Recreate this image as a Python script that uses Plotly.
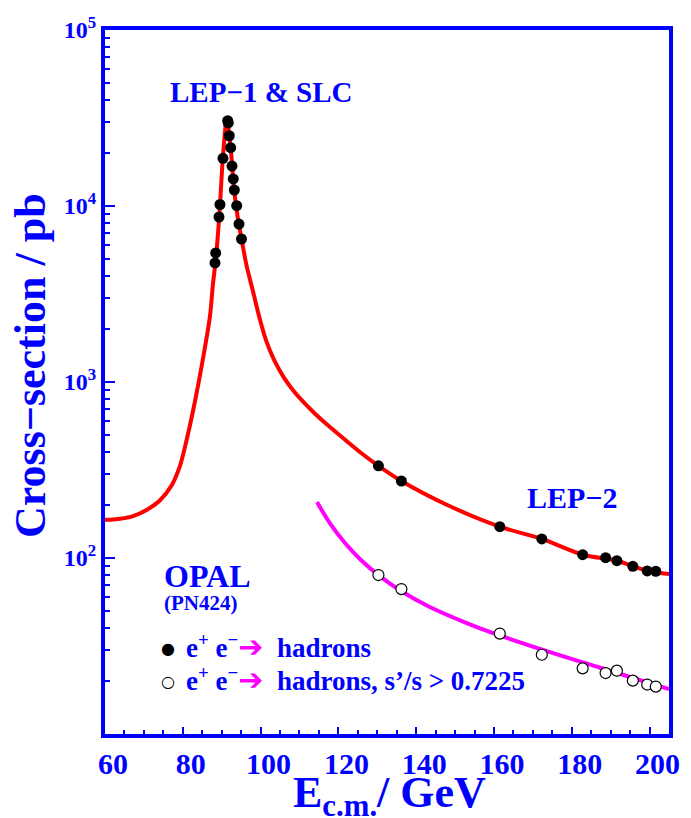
import plotly.graph_objects as go

# ---- data ----
lep1_E = [88.28, 88.46, 89.31, 89.56, 90.33, 91.54, 91.70, 91.95, 92.31, 92.65, 92.98, 93.24, 93.86, 94.45, 95.09]
lep1_xs = [4745, 5410, 8660, 10200, 18660, 30530, 29630, 25070, 21440, 16870, 14240, 12330, 10040, 7900, 6495]

lep2_E = [130.3, 136.2, 161.5, 172.3, 182.8, 188.7, 191.6, 195.7, 199.4, 201.6]
lep2_xs = [334, 273.8, 150.6, 128.3, 104.4, 100.4, 96.5, 89.7, 84.4, 84.1]
lep2_xs_cut = [80.0, 66.6, 37.2, 28.2, 23.6, 22.2, 22.9, 20.1, 19.1, 18.6]

curve_E = [60.0, 61.5, 63.9, 67.2, 70.8, 74.1, 77.1, 79.3, 81.0, 83.1, 85.3, 87.0, 87.8, 88.5,
           89.4, 90.3, 91.3, 92.3, 93.2, 94.4, 95.1, 96.4, 98.1, 99.8, 101.5, 103.5, 106.0,
           108.5, 111.0, 114.0, 117.0, 120.5, 125.6, 130.3, 136.2, 148.0, 161.5, 172.3,
           182.8, 191.6, 199.4, 205.0]
curve_xs = [165, 165, 167, 173, 188, 212, 258, 335, 470, 770, 1400, 2380, 3680, 5000,
            8900, 18700, 31200, 21400, 12330, 7900, 6495, 4580, 3236, 2280, 1700, 1330, 1060,
            890, 770, 660, 575, 495, 399, 334, 274, 200, 150.6, 128.3,
            104.4, 96.5, 84.4, 81]

cut_E = [114.5, 117.8, 121.7, 125.6, 130.3, 136.3, 143.5, 153.0, 161.5, 174.4, 187.3, 205.0]
cut_xs = [208, 157.9, 121.7, 98.4, 79.9, 64.5, 52.7, 42.7, 36.3, 29.2, 23.8, 18.0]

x_ticks = [60, 80, 100, 120, 140, 160, 180, 200]
x_minor = [v for v in range(65, 205, 5) if v % 20 != 0]
y_ticks = [1e2, 1e3, 1e4, 1e5]
y_ticktext = ["10<sup>2</sup>", "10<sup>3</sup>", "10<sup>4</sup>", "10<sup>5</sup>"]
y_minor = [m * 10 ** d for d in range(1, 5) for m in range(2, 10)]

BLUE = "#0000FF"
FONT = "Liberation Serif"

fig = go.Figure()
fig.add_trace(go.Scatter(x=curve_E, y=curve_xs, mode="lines",
                         line=dict(color="#FF0000", width=4, shape="spline", smoothing=0.8),
                         showlegend=False, hoverinfo="skip"))
fig.add_trace(go.Scatter(x=cut_E, y=cut_xs, mode="lines",
                         line=dict(color="#FF00FF", width=4, shape="spline", smoothing=1.0),
                         showlegend=False, hoverinfo="skip"))
fig.add_trace(go.Scatter(x=lep1_E + lep2_E, y=lep1_xs + lep2_xs, mode="markers",
                         marker=dict(color="black", size=11, line=dict(width=0)),
                         showlegend=False))
fig.add_trace(go.Scatter(x=lep2_E, y=lep2_xs_cut, mode="markers",
                         marker=dict(color="white", size=11, symbol="circle",
                                     line=dict(color="black", width=1.2)),
                         showlegend=False))

ann_font = dict(family=FONT, color=BLUE, weight="bold")
anns = [
    dict(x=0.277, y=0.912, text="LEP−1 &amp; SLC", size=29),
    dict(x=0.828, y=0.336, text="LEP−2", size=30),
    dict(x=0.182, y=0.225, text="OPAL", size=32),
    dict(x=0.170, y=0.186, text="(PN424)", size=21),
]
for a in anns:
    fig.add_annotation(x=a["x"], y=a["y"], xref="paper", yref="paper", text=a["text"],
                       showarrow=False, xanchor="center", yanchor="middle",
                       font=dict(size=a["size"], **ann_font))

# axis titles
fig.add_annotation(x=0.505, y=-0.088, xref="paper", yref="paper",
                   text="E<sub>c.m.</sub>/ GeV", showarrow=False,
                   xanchor="center", yanchor="middle", font=dict(size=44, **ann_font))
fig.add_annotation(x=-0.131, y=0.523, xref="paper", yref="paper",
                   text="Cross−section / pb", showarrow=False, textangle=-90,
                   xanchor="center", yanchor="middle", font=dict(size=44, **ann_font))

# legend block
ARROW = "<span style='color:#FF00FF;font-family:DejaVu Sans;font-size:30px'>➔</span>"
fig.add_annotation(x=0.112, y=0.122, xref="paper", yref="paper", text="●", showarrow=False,
                   xanchor="center", yanchor="middle", font=dict(size=16, color="black", family="DejaVu Sans"))
fig.add_annotation(x=0.112, y=0.075, xref="paper", yref="paper", text="○", showarrow=False,
                   xanchor="center", yanchor="middle", font=dict(size=16, color="black", family="DejaVu Sans"))
fig.add_annotation(x=0.14, y=0.124, xref="paper", yref="paper",
                   text="e<sup>+</sup> e<sup>−</sup>" + ARROW + "  hadrons",
                   showarrow=False, xanchor="left", yanchor="middle", font=dict(size=27, **ann_font))
fig.add_annotation(x=0.14, y=0.077, xref="paper", yref="paper",
                   text="e<sup>+</sup> e<sup>−</sup>" + ARROW + "  hadrons, s’/s &gt; 0.7225",
                   showarrow=False, xanchor="left", yanchor="middle", font=dict(size=27, **ann_font))

fig.add_shape(type="line", xref="paper", yref="paper", x0=0.66, x1=1.04, y0=1.0405, y1=1.0405,
              line=dict(color="#555555", width=2))

fig.update_xaxes(range=[60, 205], showgrid=False, zeroline=False, automargin=False,
                 showline=True, linecolor=BLUE, linewidth=4, mirror=True,
                 tickmode="array", tickvals=x_ticks, ticktext=[str(v) for v in x_ticks],
                 ticks="inside", ticklen=7, tickwidth=1.5, tickcolor=BLUE,
                 minor=dict(tickmode="array", tickvals=x_minor, ticks="inside", ticklen=4,
                            tickwidth=1.5, tickcolor=BLUE, showgrid=False),
                 tickfont=dict(family=FONT, size=30, color=BLUE, weight="bold"),
                 ticklabelshift=8)
fig.update_yaxes(type="log", range=[1, 5], showgrid=False, zeroline=False, automargin=False,
                 showline=True, linecolor=BLUE, linewidth=4, mirror=True,
                 tickmode="array", tickvals=y_ticks, ticktext=y_ticktext,
                 ticks="inside", ticklen=10, tickwidth=1.5, tickcolor=BLUE,
                 minor=dict(tickmode="array", tickvals=y_minor, ticks="inside", ticklen=5,
                            tickwidth=1.5, tickcolor=BLUE, showgrid=False),
                 tickfont=dict(family=FONT, size=24, color=BLUE, weight="bold"))

# the page body has an 8px margin: the figure is 8px smaller and its left/top margins shifted
fig.update_layout(width=683, height=810, margin=dict(l=97, r=22, t=22, b=84),
                  paper_bgcolor="white", plot_bgcolor="white", showlegend=False)

fig.write_html("out.html")
